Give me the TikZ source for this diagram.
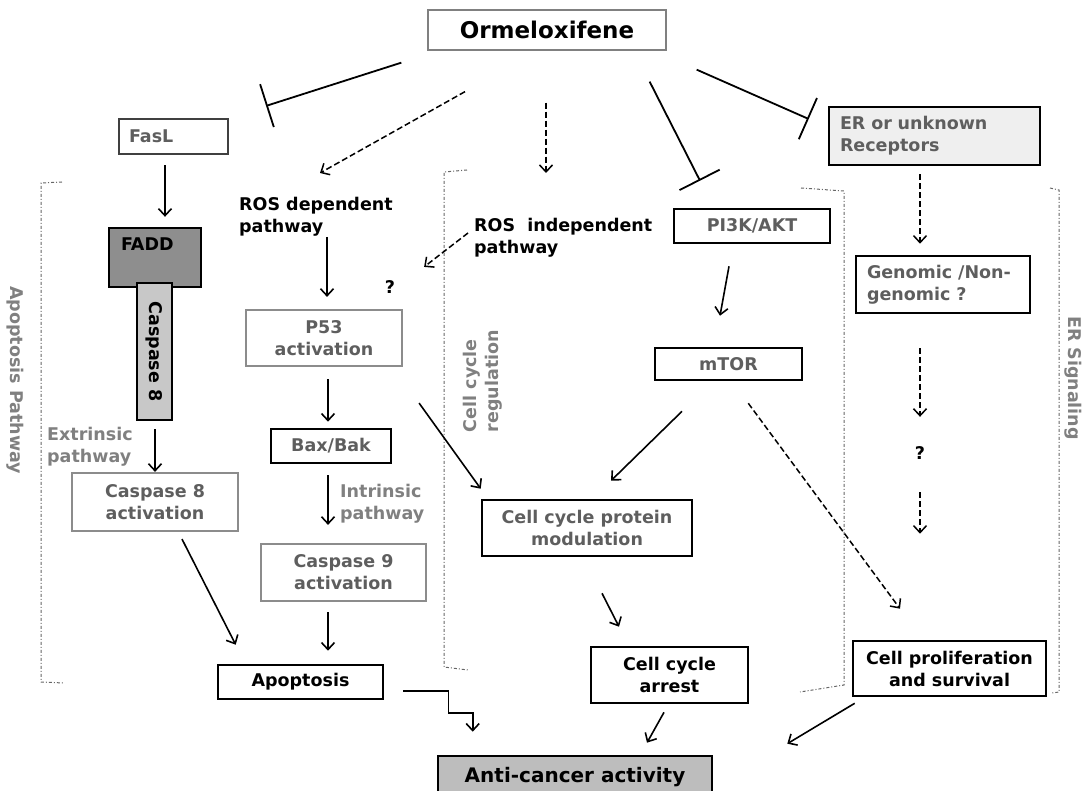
\documentclass[tikz,border=0pt]{standalone}
\usepackage{fontspec}
\setmainfont{DejaVu Sans}
\usetikzlibrary{arrows.meta, positioning}
\definecolor{txtgray}{HTML}{5E5E5E}
\definecolor{lblgray}{HTML}{808080}
\definecolor{linegray}{HTML}{8C8C8C}
\definecolor{faddgray}{HTML}{8E8E8E}
\definecolor{casgray}{HTML}{C8C8C8}
\definecolor{ergray}{HTML}{EFEFEF}
\definecolor{antigray}{HTML}{BDBDBD}

\begin{document}
\begin{tikzpicture}[x=1pt, y=-1pt, >={Straight Barb[length=7pt,width=13pt]},
    font=\bfseries\fontsize{17.5}{22}\selectfont]
    \tikzstyle{bk}=[draw, line width=2.6pt, align=center, inner sep=0pt]
    \tikzstyle{gr}=[draw=linegray, line width=2.2pt, text=txtgray, align=center, inner sep=0pt]
    \tikzstyle{lbl}=[align=left, inner sep=0pt, anchor=north west]
    \tikzstyle{ar}=[->, line width=1.6pt]
    \tikzstyle{dar}=[->, line width=1.5pt, dash pattern=on 6pt off 3pt]
    \tikzstyle{inh}=[-{Bar[width=45pt]}, line width=1.8pt]
    \tikzstyle{brk}=[draw=black!60, line width=1pt, dash dot]

    \useasboundingbox (0,0) rectangle (1083,791);

    % top
    \node[draw=gray, line width=1.3pt, minimum width=238pt, minimum height=40pt, inner sep=0pt,
          font=\bfseries\fontsize{23}{26}\selectfont] (orm) at (547,30) {Ormeloxifene};

    % apoptosis side
    \node[bk, draw=black!75, line width=2.2pt, text=txtgray, minimum width=109pt, minimum height=35pt,
          text width=89pt, align=left, inner xsep=10pt] (fasl) at (173.5,136.5) {FasL};
    \node[draw, line width=2.4pt, fill=faddgray, minimum width=92pt, minimum height=59pt] (fadd) at (155,257.5) {};
    \node[lbl] (faddtxt) at ([shift={(13,11)}]fadd.north west) {FADD};
    \node[draw, line width=2.4pt, fill=casgray, rotate=-90, minimum width=137pt, minimum height=35pt,
          inner sep=0pt] (c8) at (154.5,351.5) {Caspase 8};
    \node[gr, minimum width=166pt, minimum height=58pt] (c8act) at (155,502) {Caspase 8\\activation};
    \node[lbl] (rosdep) at (239,197) {ROS dependent\\pathway};
    \node[gr, minimum width=156pt, minimum height=56pt] (p53) at (324,338) {P53\\activation};
    \node[bk, text=txtgray, minimum width=120pt, minimum height=34pt] (bax) at (331,446) {Bax/Bak};
    \node[gr, minimum width=165pt, minimum height=57pt] (c9) at (343.5,572.5) {Caspase 9\\activation};
    \node[bk, minimum width=165pt, minimum height=34pt] (apop) at (300.5,682) {Apoptosis};
    \node[lbl, text=lblgray] (extr) at (47,427) {Extrinsic\\pathway};
    \node[lbl, text=lblgray] (intr) at (340,484) {Intrinsic\\pathway};
    \node[inner sep=0pt] (q1) at (390,287) {?};

    % cell cycle
    \node[lbl] (rosind) at (474,218) {ROS~~independent\\pathway};
    \node[bk, text=txtgray, minimum width=156pt, minimum height=34pt] (pik) at (752,226) {PI3K/AKT};
    \node[bk, text=txtgray, minimum width=147pt, minimum height=32pt] (mtor) at (728.5,364) {mTOR};
    \node[bk, text=txtgray, minimum width=210pt, minimum height=56pt] (ccp) at (587,528) {Cell cycle protein\\modulation};
    \node[bk, minimum width=157pt, minimum height=56pt] (arrest) at (669.5,675) {Cell cycle\\arrest};

    % ER
    \node[bk, fill=ergray, text=txtgray, minimum width=211pt, minimum height=58pt, text width=189pt,
          align=left, inner xsep=11pt] (er) at (934.5,136) {ER or unknown\\Receptors};
    \node[bk, text=txtgray, minimum width=174pt, minimum height=57pt, text width=152pt,
          align=left, inner xsep=11pt] (gen) at (943,284.5) {Genomic /Non-\\genomic ?};
    \node[inner sep=0pt] (q2) at (920,453) {?};
    \node[bk, minimum width=193pt, minimum height=55pt] (prolif) at (949.5,668.5) {Cell proliferation\\and survival};

    \node[bk, fill=antigray, minimum width=274pt, minimum height=42pt,
          font=\bfseries\fontsize{20}{24}\selectfont] (anti) at (575,777) {Anti-cancer activity};

    % side labels
    \node[text=lblgray, rotate=-90] (apopath) at (15,380) {Apoptosis Pathway};
    \node[text=lblgray, rotate=90, align=left] (ccreg) at (483,381) {Cell cycle\\regulation};
    \node[text=lblgray, rotate=-90] (ersig) at (1073,378) {ER Signaling};

    % brackets
    \draw[brk] (62,182) -- (41,183) -- (41,682) -- (64,683);
    \draw[brk] (467,170) -- (444,172) -- (444,667) -- (468,670);
    \draw[brk] (801,188) -- (844,191) -- (844,685) -- (800,692);
    \draw[brk] (1050,188) -- (1059,190) -- (1059,692) -- (1052,693);

    % from Ormeloxifene
    \draw[inh] ([shift={(-26,12)}]orm.south west) -- ([shift={(37,-12)}]fasl.north east);
    \draw[dar] ([shift={(-82,41)}]orm.south) -- ([shift={(81,-24)}]rosdep.north west);
    \draw[dar] ([shift={(-1,52)}]orm.south) -- ([shift={(72,-45)}]rosind.north west);
    \draw[inh] ([shift={(-17,31)}]orm.south east) -- ([shift={(-52,-27)}]pik.north);
    \draw[inh] ([shift={(30,19)}]orm.south east) -- ([shift={(-19,-17)}]er.west);

    % apoptosis
    \draw[ar] ([shift={(-8.5,10)}]fasl.south) -- ([shift={(10,-10)}]fadd.north);
    \draw[ar] ([shift={(0.5,8)}]c8.east) -- (c8act.north);
    \draw[ar] ([shift={(27,7)}]c8act.south) -- ([shift={(19,-19)}]apop.north west);
    \draw[ar] ([shift={(88,40)}]rosdep.north west) -- ([shift={(3,-12)}]p53.north);
    \draw[dar] ([shift={(-6,15)}]rosind.north west) -- ([shift={(21,-42)}]p53.north east);
    \draw[ar] ([shift={(4,12)}]p53.south) -- ([shift={(-3,-6)}]bax.north);
    \draw[ar] ([shift={(-3,11)}]bax.south) -- ([shift={(-15.5,-18)}]c9.north);
    \draw[ar] ([shift={(-15.5,10)}]c9.south) -- ([shift={(27.5,-13)}]apop.north);
    \draw[ar] ([shift={(16,36)}]p53.south east) -- ([shift={(0,-10)}]ccp.north west);
    \draw[ar] ([shift={(19,9)}]apop.east) -| ++(45,22) -| ([shift={(36,-23)}]anti.north west);

    % cell cycle
    \draw[ar] ([shift={(-23,22)}]pik.south) -- ([shift={(-8.5,-31)}]mtor.north);
    \draw[ar] ([shift={(-46.5,30)}]mtor.south) -- ([shift={(24,-18)}]ccp.north);
    \draw[dar] ([shift={(-55,22)}]mtor.south east) -- ([shift={(-49.5,-31)}]prolif.north);
    \draw[ar] ([shift={(15,36)}]ccp.south) -- ([shift={(-50.5,-19)}]arrest.north);
    \draw[ar] ([shift={(-5.5,8)}]arrest.south) -- ([shift={(72,-12)}]anti.north);

    % ER
    \draw[dar] ([shift={(-14.5,8)}]er.south) -- ([shift={(-23,-11)}]gen.north);
    \draw[dar] ([shift={(-23,34)}]gen.south) -- ([shift={(0,-29.5)}]q2.north);
    \draw[dar] ([shift={(0,32.5)}]q2.south) -- ([shift={(-29.5,-106)}]prolif.north);
    \draw[ar] ([shift={(3,6)}]prolif.south west) -- ([shift={(74,-11)}]anti.north east);
\end{tikzpicture}
\end{document}
